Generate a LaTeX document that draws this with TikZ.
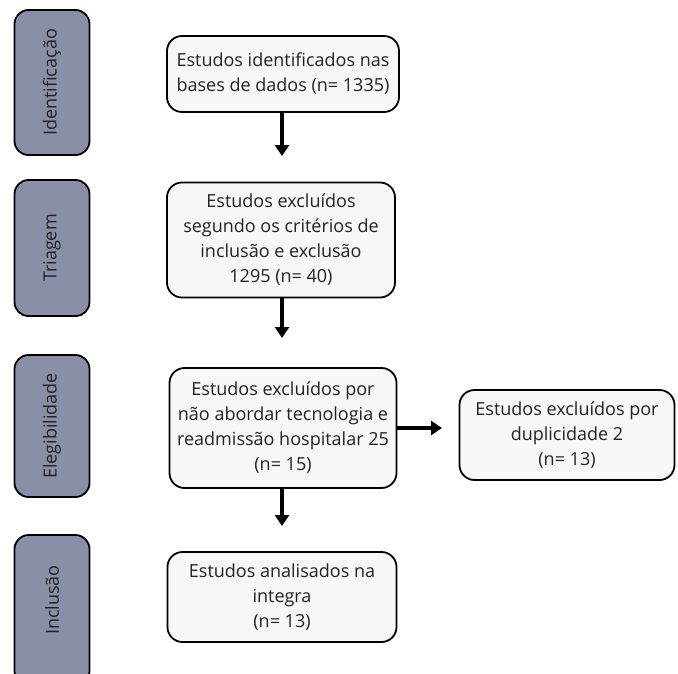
\documentclass[tikz,border=0pt]{standalone}
\usepackage{fontspec}
\setmainfont{Open Sans}
\usetikzlibrary{arrows.meta}
\definecolor{stage}{HTML}{8A8FA8}
\definecolor{boxfill}{HTML}{F7F7F7}
\definecolor{txt}{HTML}{222222}
\begin{document}
\begin{tikzpicture}[x=1pt,y=-1pt,
  stagebox/.style={draw=black,line width=1.8pt,fill=stage,rounded corners=14pt,minimum width=75pt},
  stagetext/.style={rotate=90,text=txt,font=\fontsize{18}{22}\selectfont},
  flowbox/.style={draw=black,line width=1.8pt,fill=boxfill,rounded corners=15pt,align=center,text=txt,font=\fontsize{18}{25}\selectfont,inner sep=2pt},
  flowarrow/.style={line width=3.5pt,-{Triangle[width=14pt,length=11pt]}}]
\useasboundingbox (0,0) rectangle (678,673);
\begin{scope}
\clip (0,0) rectangle (678,673);
\node[stagebox,minimum height=145pt] (s1) at (52,82.5) {};
\node[stagetext] (t1) at (s1.center) {Identificação};
\node[stagebox,minimum height=136pt] (s2) at (52,248) {};
\node[stagetext] (t2) at (s2.center) {Triagem};
\node[stagebox,minimum height=142pt] (s3) at (52,426) {};
\node[stagetext] (t3) at (s3.center) {Elegibilidade};
\node[stagebox,minimum height=150pt] (s4) at (52,610) {};
\node[stagetext] (t4) at (52,600) {Inclusão};
\end{scope}
\node[flowbox,minimum width=232pt,minimum height=76pt] (b1) at (283,74) {Estudos identificados nas\\bases de dados (n= 1335)};
\node[flowbox,minimum width=228pt,minimum height=115pt] (b2) at (281,240) {Estudos excluídos\\segundo os critérios de\\inclusão e exclusão\\1295 (n= 40)};
\node[flowbox,minimum width=227pt,minimum height=120pt] (b3) at (283,428) {Estudos excluídos por\\não abordar tecnologia e\\readmissão hospitalar 25\\(n= 15)};
\node[flowbox,minimum width=215pt,minimum height=90pt] (b5) at (567,435) {Estudos excluídos por\\duplicidade 2\\(n= 13)};
\node[flowbox,minimum width=229pt,minimum height=90pt] (b4) at (282,597) {Estudos analisados na\\integra\\(n= 13)};
\coordinate (e1) at (282,156);
\coordinate (e2) at (282,338);
\coordinate (e3) at (282,526);
\coordinate (e4) at (442,428);
\draw[flowarrow] (b1.south -| e1) -- (e1);
\draw[flowarrow] (b2.south -| e2) -- (e2);
\draw[flowarrow] (b3.south -| e3) -- (e3);
\draw[flowarrow] (b3.east |- e4) -- (e4);
\end{tikzpicture}
\end{document}
